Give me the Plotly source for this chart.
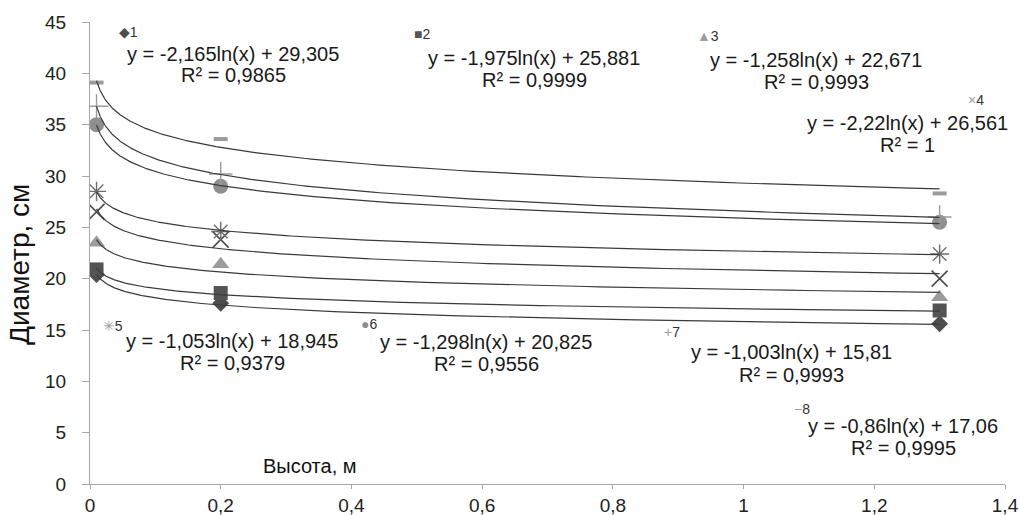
import numpy as np
import plotly.graph_objects as go

# Heights (m) at which stem diameter was measured
heights = [0.01, 0.2, 1.3]

# Measured diameters (cm) for each sample
d1 = [20.4, 17.6, 15.6]   # diamond
d2 = [20.9, 18.6, 16.9]   # square
d3 = [23.5, 21.4, 18.2]   # triangle
d4 = [26.5, 23.8, 20.0]   # cross
d5 = [28.5, 24.6, 22.4]   # asterisk
d6 = [35.0, 29.0, 25.5]   # circle
d7 = [36.8, 30.2, 26.0]   # plus
d8 = [39.1, 33.6, 28.3]   # dash

# Logarithmic trend coefficients y = a*ln(x) + b, as printed on the chart
trend_a = [-2.165, -1.975, -1.258, -2.22, -1.053, -1.298, -1.003, -0.86]
trend_b = [29.305, 25.881, 22.671, 26.561, 18.945, 20.825, 15.81, 17.06]
trend_r2 = ["0,9865", "0,9999", "0,9993", "1", "0,9379", "0,9556", "0,9993", "0,9995"]

FONT = "Liberation Sans, DejaVu Sans, sans-serif"
DARK = "#4d4d4d"
MID = "#6e6e6e"
LIGHT = "#9c9c9c"

series = [
    dict(y=d1, symbol="diamond", size=13, color=DARK),
    dict(y=d2, symbol="square", size=14, color="#545454"),
    dict(y=d3, symbol="triangle-up", size=15, color=LIGHT),
    dict(y=d4, symbol="x-thin-open", size=16, color=DARK, lw=1.6),
    dict(y=d5, symbol="asterisk-open", size=16, color=MID, lw=1.4),
    dict(y=d6, symbol="circle", size=15, color="#8f8f8f"),
    dict(y=d7, symbol="cross-thin-open", size=17, color=LIGHT, lw=1.4),
    dict(y=d8, symbol="line-ew-open", size=10, color=LIGHT, lw=4),
]

fig = go.Figure()

for s in series:
    marker = dict(symbol=s["symbol"], size=s["size"], color=s["color"])
    if "lw" in s:
        marker["line"] = dict(color=s["color"], width=s["lw"])
    fig.add_trace(go.Scatter(x=heights, y=s["y"], mode="markers",
                             marker=marker, showlegend=False, hoverinfo="skip"))

# Trend curves over the measured height span
xs = np.geomspace(heights[0], heights[-1], 200)
for a, b in zip(trend_a, trend_b):
    fig.add_trace(go.Scatter(x=xs, y=a * np.log(xs) + b, mode="lines",
                             line=dict(color="#3a3a3a", width=1.2),
                             showlegend=False, hoverinfo="skip"))


def eq_text(a, b):
    fa = f"{a:g}".replace(".", ",")
    fb = f"{b:g}".replace(".", ",")
    return f"y = {fa}ln(x) + {fb}"


# Plot-area geometry in pixels
W, H = 1020, 515
ML, MR, MT, MB = 90, 15, 22, 31
PW, PH = W - ML - MR, H - MT - MB


def px(x):
    return (x - ML) / PW


def py(y):
    return (H - MB - y) / PH


# Label blocks: (legend key, key x, key y, equation index, eq center x, eq y, r2 y)
keys = [
    ('<span style="color:#4d4d4d">◆</span>1', 128, 32, 0, 233, 54, 75),
    ('<span style="color:#545454">■</span>2', 422, 34, 1, 534, 58, 80),
    ('<span style="color:#9c9c9c">▲</span>3', 708, 36, 2, 816, 60, 82),
    ('<span style="color:#9c9c9c">×</span>4', 976, 100, 3, 907, 123, 145),
    ('<span style="color:#9c9c9c">✳</span>5', 113, 326, 4, 232, 341, 363),
    ('<span style="color:#8f8f8f">●</span>6', 369, 324, 5, 486, 342, 364),
    ('<span style="color:#9c9c9c">+</span>7', 672, 332, 6, 791, 352, 375),
    ('<span style="color:#9c9c9c">−</span>8', 802, 409, 7, 903, 426, 448),
]

EQ_SIZE = 20
annotations = []
for key, kx, ky, idx, ex, ey, ry in keys:
    annotations.append(dict(x=px(kx), y=py(ky), xref="paper", yref="paper",
                            text=key, showarrow=False, xanchor="center", yanchor="middle",
                            borderpad=0,
                            font=dict(family=FONT, size=14, color="#333")))
    annotations.append(dict(x=px(ex), y=py(ey), xref="paper", yref="paper",
                            text=eq_text(trend_a[idx], trend_b[idx]), showarrow=False,
                            xanchor="center", yanchor="middle", borderpad=0,
                            font=dict(family=FONT, size=EQ_SIZE, color="#1a1a1a")))
    annotations.append(dict(x=px(ex), y=py(ry), xref="paper", yref="paper",
                            text=f"R² = {trend_r2[idx]}", showarrow=False,
                            xanchor="center", yanchor="middle", borderpad=0,
                            font=dict(family=FONT, size=EQ_SIZE, color="#1a1a1a")))

# Axis titles
annotations.append(dict(x=px(310), y=py(466), xref="paper", yref="paper",
                        text="Высота, м", showarrow=False, xanchor="center", yanchor="middle",
                        font=dict(family=FONT, size=20, color="#111")))
annotations.append(dict(x=px(19), y=py(265), xref="paper", yref="paper",
                        text="Диаметр, см", showarrow=False, textangle=-90,
                        xanchor="center", yanchor="middle",
                        font=dict(family=FONT, size=28, color="#111")))

fig.update_layout(
    width=W, height=H,
    margin=dict(l=ML, r=MR, t=MT, b=MB, autoexpand=False),
    paper_bgcolor="white", plot_bgcolor="white",
    separators=", ",
    annotations=annotations,
    font=dict(family=FONT, size=16, color="#222"),
)
fig.update_xaxes(range=[0, 1.4], dtick=0.2, tick0=0, showgrid=False, zeroline=False,
                 automargin=False,
                 showline=True, linecolor="#a6a6a6", linewidth=1,
                 ticks="outside", ticklen=4, tickcolor="#a6a6a6", ticklabelstandoff=0,
                 tickfont=dict(family=FONT, size=19, color="#222"))
fig.update_yaxes(range=[0, 45], dtick=5, showgrid=False, zeroline=False,
                 automargin=False,
                 showline=True, linecolor="#a6a6a6", linewidth=1,
                 ticks="outside", ticklen=7, tickcolor="#a6a6a6", ticklabelstandoff=12,
                 tickfont=dict(family=FONT, size=19, color="#222"))

fig.write_html("out.html")
